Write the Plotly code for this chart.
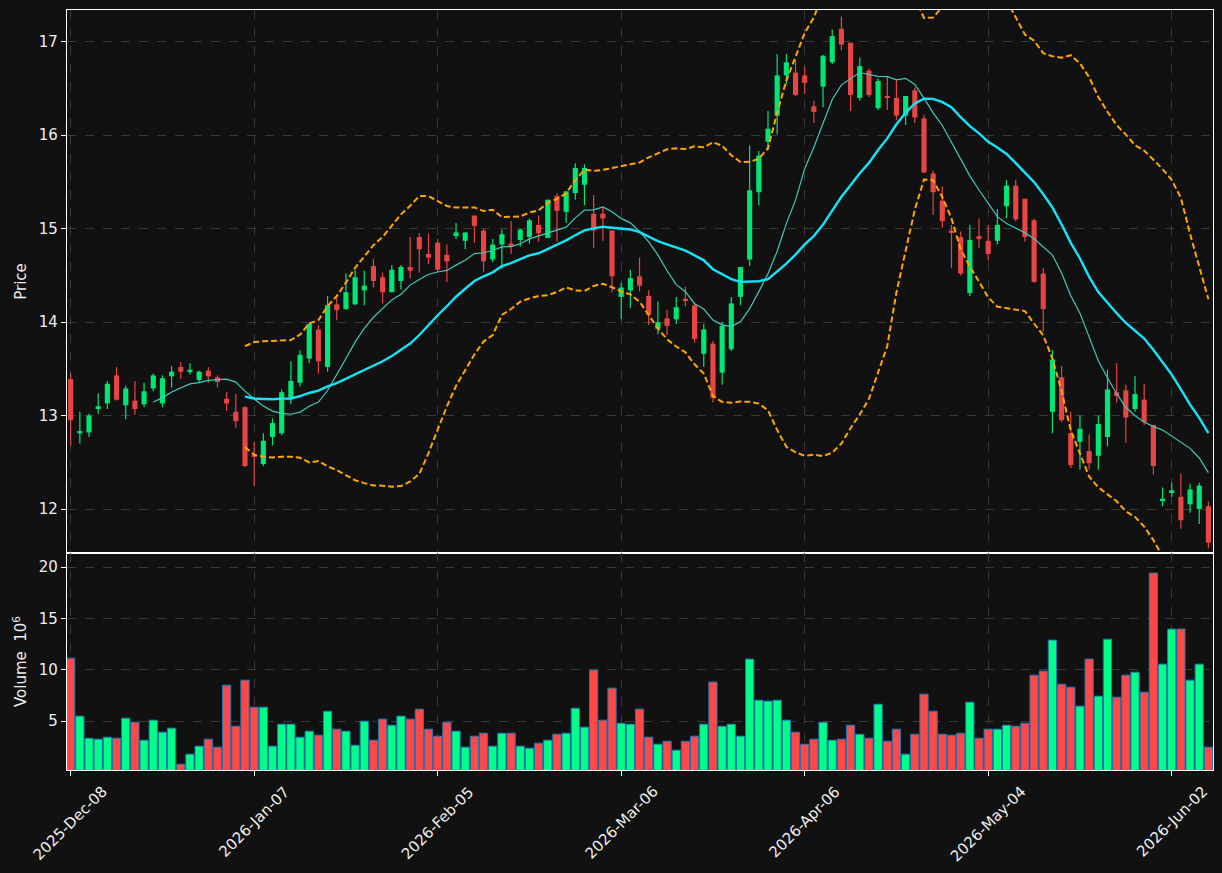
import plotly.graph_objects as go
from plotly.subplots import make_subplots
import pandas as pd

# ---------------- data ----------------
opens = [13.39, 12.81, 12.82, 13.08, 13.13, 13.43, 13.11, 13.16, 13.12, 13.29,
         13.13, 13.42, 13.52, 13.47, 13.38, 13.48, 13.41, 13.18, 13.04, 13.09,
         12.57, 12.48, 12.77, 12.81, 13.19, 13.35, 13.61, 13.92, 13.52, 14.19,
         14.14, 14.19, 14.34, 14.60, 14.48, 14.32, 14.44, 14.59, 14.91, 14.73,
         14.85, 14.72, 14.92, 14.87, 15.14, 14.98, 14.67, 14.83, 14.84, 14.88,
         14.91, 15.04, 14.90, 15.35, 15.18, 15.38, 15.47, 15.16, 15.16, 14.98,
         14.27, 14.34, 14.49, 14.28, 13.93, 14.04, 14.03, 14.25, 14.18, 13.66,
         13.77, 13.46, 13.71, 14.27, 14.67, 15.39, 15.93, 16.21, 16.64, 16.67,
         16.64, 16.31, 16.52, 16.78, 17.14, 16.99, 16.40, 16.69, 16.29, 16.41,
         16.40, 16.21, 16.48, 16.18, 15.59, 15.30, 14.98, 14.91, 14.31, 14.92,
         14.87, 14.87, 15.24, 15.46, 15.32, 15.09, 14.52, 13.04, 13.41, 12.81,
         12.72, 12.62, 12.57, 12.77, 13.25, 13.27, 13.07, 13.17, 12.90, 12.09,
         12.18, 12.13, 12.05, 12.00, 12.03]
highs = [13.45, 13.04, 13.02, 13.24, 13.37, 13.52, 13.32, 13.37, 13.35, 13.45,
         13.43, 13.53, 13.57, 13.56, 13.48, 13.52, 13.43, 13.25, 13.23, 13.10,
         12.72, 12.81, 12.97, 13.28, 13.58, 13.70, 13.99, 13.97, 14.28, 14.26,
         14.52, 14.56, 14.55, 14.68, 14.53, 14.61, 14.61, 14.91, 14.95, 14.95,
         14.89, 14.83, 15.06, 14.96, 15.14, 15.00, 14.89, 14.99, 15.08, 15.00,
         15.11, 15.14, 15.31, 15.38, 15.40, 15.70, 15.69, 15.36, 15.24, 14.98,
         14.42, 14.56, 14.69, 14.34, 14.22, 14.13, 14.27, 14.38, 14.21, 13.98,
         13.80, 14.00, 14.27, 14.59, 15.89, 15.83, 16.26, 16.87, 16.87, 16.81,
         16.73, 16.37, 16.86, 17.13, 17.27, 16.99, 16.83, 16.71, 16.61, 16.62,
         16.59, 16.42, 16.51, 16.22, 15.62, 15.45, 15.04, 14.97, 15.04, 15.11,
         15.04, 15.21, 15.52, 15.52, 15.32, 15.11, 14.58, 13.70, 13.53, 13.04,
         13.00, 12.80, 13.00, 13.49, 13.56, 13.33, 13.42, 13.34, 12.90, 12.23,
         12.28, 12.38, 12.27, 12.28, 12.08]
lows = [12.68, 12.70, 12.77, 13.02, 13.07, 13.16, 12.96, 13.01, 13.09, 13.26,
        13.09, 13.30, 13.39, 13.44, 13.35, 13.35, 13.30, 13.05, 12.87, 12.45,
        12.25, 12.46, 12.68, 12.79, 13.12, 13.31, 13.56, 13.45, 13.47, 14.02,
        14.13, 14.18, 14.18, 14.37, 14.20, 14.32, 14.35, 14.47, 14.53, 14.62,
        14.54, 14.43, 14.89, 14.78, 14.85, 14.54, 14.64, 14.57, 14.73, 14.81,
        14.84, 14.86, 14.90, 14.86, 15.06, 15.31, 15.25, 14.79, 14.87, 14.32,
        14.03, 14.15, 14.33, 13.97, 13.87, 13.86, 13.98, 14.17, 13.78, 13.52,
        13.14, 13.33, 13.69, 14.18, 14.60, 15.25, 15.84, 16.01, 16.54, 16.42,
        16.44, 16.13, 16.30, 16.76, 16.91, 16.26, 16.37, 16.41, 16.27, 16.27,
        16.16, 16.11, 16.13, 15.60, 15.15, 15.01, 14.58, 14.50, 14.28, 14.79,
        14.66, 14.83, 15.11, 15.08, 14.86, 14.42, 13.90, 12.81, 12.93, 12.44,
        12.42, 12.42, 12.42, 12.67, 13.14, 12.71, 13.04, 12.90, 12.37, 12.03,
        12.13, 11.79, 11.96, 11.84, 11.58]
closes = [12.95, 12.835, 13.00, 13.10, 13.34, 13.17, 13.29, 13.07, 13.26, 13.43,
          13.40, 13.47, 13.47, 13.49, 13.47, 13.42, 13.36, 13.13, 12.94, 12.46,
          12.56, 12.73, 12.92, 13.25, 13.37, 13.65, 13.98, 13.58, 14.18, 14.13,
          14.32, 14.48, 14.39, 14.44, 14.32, 14.56, 14.59, 14.55, 14.78, 14.69,
          14.56, 14.65, 14.96, 14.96, 15.03, 14.65, 14.83, 14.94, 14.81, 14.99,
          15.09, 14.95, 15.31, 15.19, 15.40, 15.65, 15.65, 14.98, 15.11, 14.49,
          14.37, 14.47, 14.39, 14.08, 14.00, 13.96, 14.16, 14.23, 13.82, 13.92,
          13.19, 13.96, 14.20, 14.59, 15.41, 15.78, 16.07, 16.64, 16.78, 16.43,
          16.56, 16.25, 16.85, 17.06, 16.97, 16.43, 16.74, 16.43, 16.58, 16.40,
          16.21, 16.42, 16.19, 15.60, 15.39, 15.08, 14.96, 14.52, 14.88, 14.89,
          14.73, 15.04, 15.46, 15.10, 14.91, 14.43, 14.14, 13.60, 12.95, 12.47,
          12.86, 12.49, 12.91, 13.28, 13.21, 12.98, 13.23, 12.93, 12.46, 12.11,
          12.20, 11.88, 12.21, 12.25, 11.64]
volumes = [11.13, 5.49, 3.34, 3.25, 3.44, 3.34, 5.29, 4.90, 3.15, 5.10,
           3.93, 4.32, 0.81, 1.79, 2.57, 3.25, 2.47, 8.50, 4.51, 8.99,
           6.36, 6.36, 2.57, 4.71, 4.71, 3.44, 4.03, 3.64, 5.97, 4.22,
           4.03, 2.66, 5.00, 3.15, 5.20, 4.61, 5.49, 5.20, 6.17, 4.22,
           3.54, 4.90, 4.03, 2.47, 3.54, 3.83, 2.57, 3.83, 3.83, 2.57,
           2.37, 2.86, 3.15, 3.73, 3.83, 6.26, 4.42, 9.97, 5.10, 8.21,
           4.80, 4.71, 6.17, 3.44, 2.76, 3.05, 2.18, 3.05, 3.54, 4.71,
           8.80, 4.51, 4.71, 3.54, 11.04, 7.04, 6.95, 7.04, 5.10, 3.93,
           2.76, 3.25, 4.90, 3.15, 3.25, 4.61, 3.73, 3.34, 6.65, 3.05,
           4.22, 1.79, 3.73, 7.63, 5.97, 3.73, 3.64, 3.83, 6.85, 3.34,
           4.22, 4.22, 4.61, 4.51, 4.80, 9.48, 9.87, 12.89, 8.60, 8.31,
           6.46, 11.04, 7.43, 12.98, 7.33, 9.48, 9.77, 7.82, 19.41, 10.55,
           13.96, 13.96, 8.99, 10.55, 2.47]
tick_positions = [0, 20, 40, 60, 80, 100, 120]
tick_labels = ["2025-Dec-08", "2026-Jan-07", "2026-Feb-05", "2026-Mar-06",
               "2026-Apr-06", "2026-May-04", "2026-Jun-02"]
price_ticks = [12, 13, 14, 15, 16, 17]
volume_ticks = [5, 10, 15, 20]

# ---------------- styles ----------------
BG = "#111111"
UP = "#00e676"
DOWN = "#e84545"
VUP = "#00ff88"
VDOWN = "#ff4848"
GRID = "#3a3a3a"
TXT = "#eeeeee"
FONT = "DejaVu Sans"

n = len(closes)
idx = list(range(n))
cs = pd.Series(closes)
ma10 = cs.rolling(10).mean()
ma20 = cs.rolling(20).mean()
sd20 = cs.rolling(20).std()
bb_up = ma20 + 2 * sd20
bb_lo = ma20 - 2 * sd20

is_up = [c >= o for o, c in zip(opens, closes)]

fig = make_subplots(rows=2, cols=1, shared_xaxes=True, vertical_spacing=0,
                    row_heights=[0.7145, 0.2855])

# wicks
for flag, col in ((True, UP), (False, DOWN)):
    wx, wy = [], []
    for i in idx:
        if is_up[i] == flag:
            wx += [i, i, None]
            wy += [lows[i], highs[i], None]
    fig.add_trace(go.Scatter(x=wx, y=wy, mode="lines",
                             line=dict(color=col, width=1.2),
                             hoverinfo="skip", showlegend=False), row=1, col=1)

# bodies
fig.add_trace(go.Bar(
    x=idx,
    y=[max(abs(c - o), 0.012) for o, c in zip(opens, closes)],
    base=[min(o, c) for o, c in zip(opens, closes)],
    width=0.56,
    marker=dict(color=[UP if u else DOWN for u in is_up], line=dict(width=0)),
    showlegend=False), row=1, col=1)

# moving averages and bands
fig.add_trace(go.Scatter(x=idx, y=ma10, mode="lines",
                         line=dict(color="#45c8bb", width=1.2),
                         showlegend=False), row=1, col=1)
fig.add_trace(go.Scatter(x=idx, y=ma20, mode="lines",
                         line=dict(color="#14e4f8", width=2.4),
                         showlegend=False), row=1, col=1)
for band in (bb_up, bb_lo):
    fig.add_trace(go.Scatter(x=idx, y=band, mode="lines",
                             line=dict(color="#ffa500", width=2, dash="6px,3px"),
                             showlegend=False), row=1, col=1)

# volume
fig.add_trace(go.Bar(
    x=idx, y=volumes, width=0.9,
    marker=dict(color=[VUP if u else VDOWN for u in is_up],
                line=dict(color="#1f77b4", width=1)),
    showlegend=False), row=2, col=1)

axis_common = dict(showline=True, mirror=True, linecolor="white", linewidth=1.3,
                   showgrid=True, gridcolor=GRID, griddash="dash", gridwidth=1,
                   zeroline=False, tickfont=dict(family=FONT, size=15, color=TXT))

fig.update_xaxes(**axis_common, range=[-0.4, 124.5], tickvals=tick_positions,
                 ticktext=tick_labels)
fig.update_xaxes(showticklabels=False, ticks="", row=1, col=1)
fig.update_xaxes(ticks="outside", ticklen=5, tickcolor="white", tickwidth=1.2,
                 showticklabels=False, row=2, col=1)

# rotated date labels centred on their ticks (matplotlib style)
for pos, lab in zip(tick_positions, tick_labels):
    fig.add_annotation(x=pos, xref="x2", y=0, yref="paper", yshift=-10,
                       text=lab, textangle=-45, showarrow=False,
                       xanchor="center", yanchor="top",
                       font=dict(family=FONT, size=15, color=TXT))

fig.update_yaxes(**axis_common, ticks="outside", ticklen=5, tickcolor="white",
                 tickwidth=1.2)
fig.update_yaxes(range=[11.529, 17.340], tickvals=price_ticks,
                 title=dict(text="Price", font=dict(family=FONT, size=15, color=TXT),
                            standoff=8), row=1, col=1)
fig.update_yaxes(range=[0.25, 21.36], tickvals=volume_ticks,
                 title=dict(text="Volume  10<sup>6</sup>",
                            font=dict(family=FONT, size=15, color=TXT), standoff=8),
                 row=2, col=1)

fig.update_layout(width=1222, height=873, paper_bgcolor=BG, plot_bgcolor=BG,
                  margin=dict(l=67, r=9, t=10, b=103), barmode="overlay",
                  font=dict(family=FONT, color=TXT), showlegend=False)

fig.write_html("out.html")
